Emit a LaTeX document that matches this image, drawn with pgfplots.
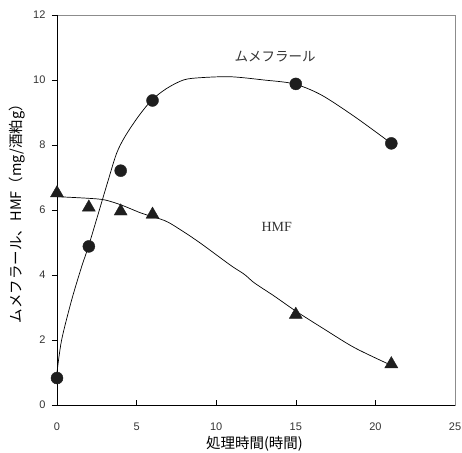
\documentclass[border=0pt]{standalone}
\usepackage{pgfplots}
\pgfplotsset{compat=1.18}
\usepackage{fontspec}
\setmainfont{Liberation Sans}
\newfontfamily\cjk{Noto Sans CJK JP}
\newfontfamily\serif{Liberation Serif}
\definecolor{tickgray}{HTML}{333333}
\definecolor{framegray}{HTML}{8C8C8C}
\definecolor{markc}{HTML}{1E1E1E}
\begin{document}
\begin{tikzpicture}
\useasboundingbox (-57pt,-47pt) rectangle (405pt,405pt);
\begin{axis}[
  scale only axis,
  width=398pt, height=390pt,
  xmin=0, xmax=25, ymin=0, ymax=12,
  xtick={0,5,...,25}, ytick={0,2,...,12},
  xtick pos=left, ytick pos=left,
  xtick align=inside, ytick align=outside,
  major tick length=5pt,
  tick style={black, line width=0.6pt},
  axis line style={framegray, line width=0.8pt},
  /pgf/number format/assume math mode=true,
  ticklabel style={font=\fontsize{11}{13}\selectfont, text=tickgray},
  xticklabel style={yshift=-14pt},
  yticklabel style={xshift=-3pt},
  every axis y label/.style={at={(axis description cs:-0.099,0.5)}, rotate=90, anchor=center},
  every axis x label/.style={at={(axis description cs:0.496,-0.1)}, anchor=center},
  ylabel={\cjk\fontsize{14.5}{16}\selectfont ムメフラール、HMF（mg/酒粕g）},
  xlabel={\cjk\fontsize{14.5}{16}\selectfont 処理時間(時間)},
  clip=false,
]
\draw[black, line width=0.9pt] (rel axis cs:0,1) -- (rel axis cs:0,0) -- (rel axis cs:1,0);
% fitted curve: ムメフラール
\addplot[black, line width=0.7pt, smooth, no marks] table {
0 1.0
0.29 2.0
0.92 3.23
1.55 4.26
1.97 4.87
2.6 5.9
3.22 6.92
3.74 7.74
4.27 8.26
5.1 8.87
5.95 9.38
6.89 9.74
7.94 10.0
8.98 10.07
10.9 10.1
13.0 10.0
14.9 9.88
16.6 9.54
18.7 8.87
21.0 8.05
};
% fitted curve: HMF
\addplot[black, line width=0.7pt, smooth, no marks] table {
0 6.41
1.97 6.36
3.0 6.31
4.06 6.15
5.32 5.9
6.78 5.67
7.73 5.4
8.98 4.99
10.9 4.3
11.77 4.02
12.39 3.76
13.65 3.35
15.0 2.89
16.8 2.33
18.7 1.76
21.0 1.22
};
% data: ムメフラール
\addplot[only marks, mark=*, mark size=6pt, mark options={fill=markc, draw=markc}] table {
0 0.83
2 4.88
4 7.21
6 9.37
15 9.88
21 8.05
};
% data: HMF
\addplot[only marks, mark=triangle*, mark size=7.5pt, mark options={fill=markc, draw=markc}] table {
0 6.52
2 6.08
4 5.96
6 5.86
15 2.78
21 1.26
};
\node[font=\cjk\fontsize{13.5}{15}\selectfont, text=tickgray] at (axis cs:13.7,10.72) {ムメフラール};
\node[font=\serif\fontsize{14}{16}\selectfont, text=tickgray] at (axis cs:13.8,5.49) {HMF};
\end{axis}
\end{tikzpicture}
\end{document}
